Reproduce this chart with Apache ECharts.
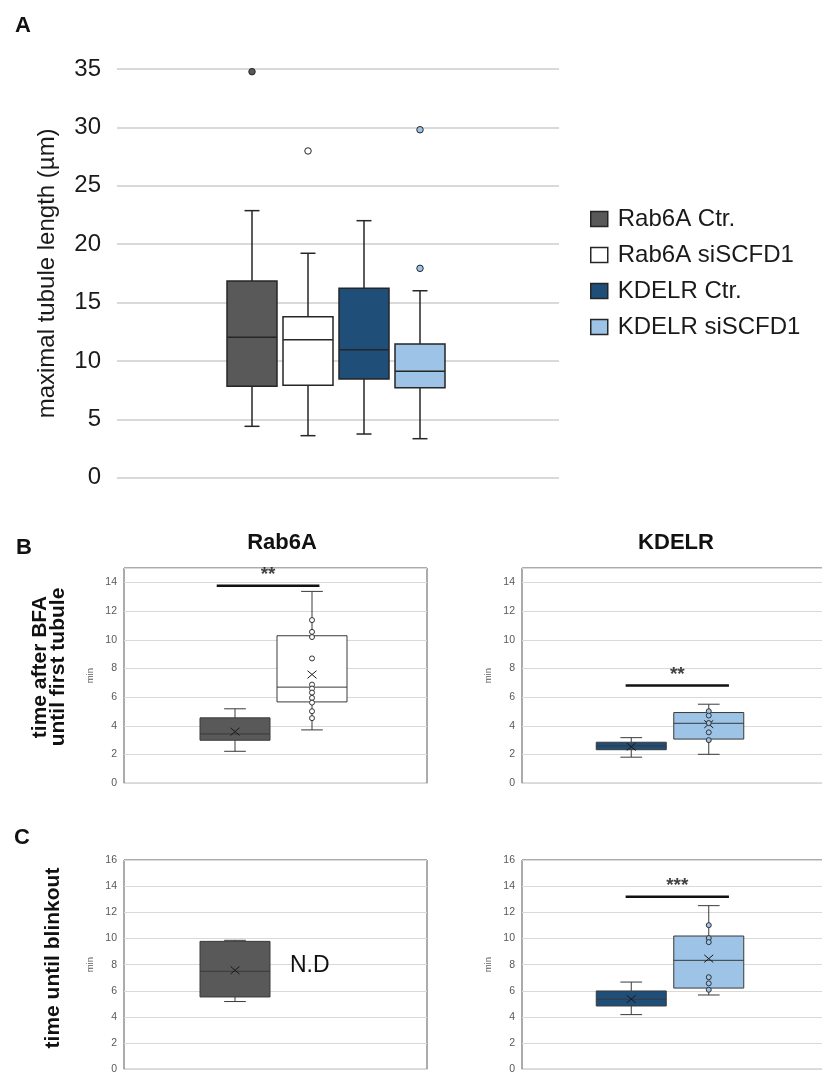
<!DOCTYPE html>
<html><head><meta charset="utf-8">
<script src="https://cdn.jsdelivr.net/npm/echarts@6/dist/echarts.min.js"></script>
<style>html,body{margin:0;padding:0;background:#fff}#c{width:822px;height:1072px}</style>
</head><body><div id="c"></div>
<script>
// ---------------- DATA ----------------
// Panel A: maximal tubule length (µm); stats = [min, Q1, median, Q3, max]
const aCategories = ['Rab6A Ctr.', 'Rab6A siSCFD1', 'KDELR Ctr.', 'KDELR siSCFD1'];
const aBoxStats = [
  [4.40, 7.83, 12.02, 16.85, 22.87],
  [3.60, 7.91, 11.82, 13.79, 19.22],
  [3.74, 8.45, 10.96, 16.22, 22.01],
  [3.34, 7.71, 9.11, 11.45, 16.01]
];
const aOutliers = [[34.77], [27.98], [], [29.80, 17.93]];
const aYTicks = [0, 5, 10, 15, 20, 25, 30, 35];

// Panel B: time after BFA until first tubule (min)
const bCategories = ['Ctr.', 'siSCFD1'];
const bRab6ABox = [[2.23, 3.00, 3.44, 4.56, 5.19], [3.72, 5.67, 6.70, 10.28, 13.37]];
const bRab6AMean = [3.60, 7.58];
const bRab6APoints = [[], [11.37, 10.55, 10.19, 8.70, 6.88, 6.60, 6.32, 5.95, 5.62, 5.02, 4.54]];
const bKdelrBox = [[1.82, 2.34, 2.60, 2.86, 3.18], [2.02, 3.08, 4.18, 4.93, 5.51]];
const bKdelrMean = [2.55, 4.12];
const bKdelrPoints = [[], [5.02, 4.72, 4.20, 3.55, 3.01]];
const bYTicks = [0, 2, 4, 6, 8, 10, 12, 14];
const bYMax = 15;

// Panel C: time until blinkout (min)
const cCategories = ['Ctr.', 'siSCFD1'];
const cRab6ABox = [[5.18, 5.53, 7.49, 9.78, 9.86]];
const cRab6AMean = [7.57];
const cKdelrBox = [[4.18, 4.84, 5.35, 5.99, 6.67], [5.68, 6.21, 8.33, 10.19, 12.51]];
const cKdelrMean = [5.37, 8.46];
const cKdelrPoints = [[], [11.02, 10.03, 9.72, 7.04, 6.57, 6.08]];
const cYTicks = [0, 2, 4, 6, 8, 10, 12, 14, 16];

// significance annotations (value = y level in axis units)
const sigBRab6A = { y: 13.77, text: '**' };
const sigBKdelr = { y: 6.81, text: '**' };
const sigCKdelr = { y: 13.2, text: '***' };

// ---------------- STYLE / LAYOUT ----------------
const FONT = '"Liberation Sans", Arial, Helvetica, sans-serif';
const FILLS = ['#595959', '#ffffff', '#1f4e79', '#9dc3e6'];
const INK = '#262626';

const grid = [], xAxis = [], yAxis = [], series = [];

function addGrid(rect, xa, ya, extra) {
  const gi = grid.length;
  grid.push(Object.assign({ left: rect.left, top: rect.top, width: rect.width, height: rect.height,
    containLabel: false, outerBoundsMode: 'none' }, extra || {}));
  xAxis.push(Object.assign({ gridIndex: gi }, xa));
  yAxis.push(Object.assign({ gridIndex: gi }, ya));
  return gi;
}

function hiddenY(ticks, max) {
  return { type: 'value', min: ticks[0], max: max, interval: ticks[1] - ticks[0], show: false };
}

function frameY(ticks, max, opt) {
  return Object.assign({
    type: 'value', min: ticks[0], max: max, interval: ticks[1] - ticks[0],
    axisLine: { show: false }, axisTick: { show: false },
    splitLine: { show: true, lineStyle: { color: '#d9d9d9', width: 1 } },
    axisLabel: { fontSize: 10.5, color: '#595959', margin: 7, fontFamily: FONT, showMaxLabel: ticks[ticks.length - 1] === max },
    name: 'min', nameLocation: 'middle', nameRotate: 90, nameGap: 29,
    nameTextStyle: { fontSize: 9.5, color: '#595959', fontFamily: FONT }
  }, opt || {});
}

function addBox(gi, catIndex, stats, mean, st) {
  series.push({
    type: 'custom', name: st.name, xAxisIndex: gi, yAxisIndex: gi, silent: true, z: 3,
    data: [[catIndex].concat(stats)],
    encode: { x: 0, y: [1, 2, 3, 4, 5] },
    renderItem: function (params, api) {
      const x = api.value(0);
      const lo = api.coord([x, api.value(1)]);
      const q1 = api.coord([x, api.value(2)]);
      const md = api.coord([x, api.value(3)]);
      const q3 = api.coord([x, api.value(4)]);
      const hi = api.coord([x, api.value(5)]);
      const band = api.size([1, 0])[0];
      const w = band * st.widthRatio;
      const cap = w * st.capRatio;
      const cx = lo[0];
      const ls = { stroke: st.stroke, lineWidth: st.lineWidth, fill: null };
      const children = [
        { type: 'line', shape: { x1: cx, y1: lo[1], x2: cx, y2: q1[1] }, style: ls },
        { type: 'line', shape: { x1: cx, y1: q3[1], x2: cx, y2: hi[1] }, style: ls },
        { type: 'line', shape: { x1: cx - cap / 2, y1: lo[1], x2: cx + cap / 2, y2: lo[1] }, style: ls },
        { type: 'line', shape: { x1: cx - cap / 2, y1: hi[1], x2: cx + cap / 2, y2: hi[1] }, style: ls },
        { type: 'rect', shape: { x: cx - w / 2, y: q3[1], width: w, height: q1[1] - q3[1] },
          style: { fill: st.fill, stroke: st.stroke, lineWidth: st.lineWidth } },
        { type: 'line', shape: { x1: cx - w / 2, y1: md[1], x2: cx + w / 2, y2: md[1] }, style: ls }
      ];
      if (mean != null) {
        const m = api.coord([x, mean]);
        const hx = 4.5, hy = 3.8;
        const xs = { stroke: '#1a1a1a', lineWidth: 1 };
        children.push({ type: 'line', shape: { x1: m[0] - hx, y1: m[1] - hy, x2: m[0] + hx, y2: m[1] + hy }, style: xs });
        children.push({ type: 'line', shape: { x1: m[0] - hx, y1: m[1] + hy, x2: m[0] + hx, y2: m[1] - hy }, style: xs });
      }
      return { type: 'group', children: children };
    }
  });
}

function addPoints(gi, catIndex, values, fill, size, border) {
  if (!values || !values.length) return;
  series.push({
    type: 'scatter', xAxisIndex: gi, yAxisIndex: gi, silent: true, z: 4,
    data: values.map(v => [catIndex, v]), symbol: 'circle', symbolSize: size,
    itemStyle: { color: fill, borderColor: border, borderWidth: 1, opacity: 1 }
  });
}

function addSig(gi, sig, from, to) {
  series.push({
    type: 'line', xAxisIndex: gi, yAxisIndex: gi, silent: true, z: 5,
    data: [[from, sig.y], [to, sig.y]], symbol: 'none',
    lineStyle: { color: '#111', width: 2.5 }
  });
  series.push({
    type: 'scatter', xAxisIndex: gi, yAxisIndex: gi, silent: true, z: 5,
    data: [[(from + to) / 2, sig.y]], symbolSize: 1, itemStyle: { color: 'rgba(0,0,0,0)' },
    label: { show: true, position: 'top', distance: 1, formatter: sig.text, fontSize: 19,
      fontWeight: 'bold', color: '#111', fontFamily: FONT }
  });
}

// ---------------- PANEL A ----------------
const aTop = 69, aH = 408.7;
const aMax = aYTicks[aYTicks.length - 1];
addGrid({ left: 117, top: aTop, width: 442, height: aH },
  { type: 'value', min: 0, max: 1, show: false },
  { type: 'value', min: aYTicks[0], max: aMax, interval: aYTicks[1] - aYTicks[0],
    axisLine: { show: false }, axisTick: { show: false },
    splitLine: { show: true, lineStyle: { color: '#d9d9d9', width: 2 } },
    axisLabel: { fontSize: 24, color: '#1a1a1a', margin: 16, fontFamily: FONT },
    name: 'maximal tubule length (µm)', nameLocation: 'middle', nameRotate: 90, nameGap: 58,
    nameTextStyle: { fontSize: 24, color: '#1a1a1a', fontFamily: FONT } });
const gAb = addGrid({ left: 224, top: aTop, width: 224, height: aH },
  { type: 'category', data: aCategories, show: false },
  hiddenY(aYTicks, aMax));
aCategories.forEach((name, i) => {
  addBox(gAb, i, aBoxStats[i], null, { name: name, fill: FILLS[i], stroke: INK, lineWidth: 1.5, widthRatio: 50 / 56, capRatio: 0.3 });
  addPoints(gAb, i, aOutliers[i], FILLS[i], 6.5, INK);
});

// ---------------- PANEL B ----------------
const bTop = 568, bH = 215.3;
const BSTROKE = '#3a3a3a';
const frameBorder = { show: true, borderColor: '#595959', borderWidth: 1, backgroundColor: 'rgba(0,0,0,0)' };
const gBL = addGrid({ left: 124, top: bTop, width: 303, height: bH },
  { type: 'value', min: 0, max: 1, show: false }, frameY(bYTicks, bYMax), frameBorder);
const gBLb = addGrid({ left: 196.5, top: bTop, width: 154, height: bH },
  { type: 'category', data: bCategories, show: false }, hiddenY(bYTicks, bYMax));
[0, 1].forEach(i => {
  addBox(gBLb, i, bRab6ABox[i], bRab6AMean[i], { name: 'Rab6A ' + bCategories[i], fill: FILLS[i], stroke: BSTROKE, lineWidth: 1, widthRatio: 70 / 77, capRatio: 0.31 });
  addPoints(gBLb, i, bRab6APoints[i], FILLS[i], 5, '#333');
});
addSig(gBL, sigBRab6A, 0.306, 0.645);

const gBR = addGrid({ left: 522, top: bTop, width: 303, height: bH },
  { type: 'value', min: 0, max: 1, show: false }, frameY(bYTicks, bYMax), frameBorder);
const gBRb = addGrid({ left: 592.5, top: bTop, width: 155, height: bH },
  { type: 'category', data: bCategories, show: false }, hiddenY(bYTicks, bYMax));
[0, 1].forEach(i => {
  addBox(gBRb, i, bKdelrBox[i], bKdelrMean[i], { name: 'KDELR ' + bCategories[i], fill: FILLS[i + 2], stroke: BSTROKE, lineWidth: 1, widthRatio: 70 / 77.5, capRatio: 0.31 });
  addPoints(gBRb, i, bKdelrPoints[i], FILLS[i + 2], 5, '#333');
});
addSig(gBR, sigBKdelr, 0.342, 0.683);

// ---------------- PANEL C ----------------
const cTop = 860, cH = 209.3;
const cMax = cYTicks[cYTicks.length - 1];
const gCL = addGrid({ left: 124, top: cTop, width: 303, height: cH },
  { type: 'value', min: 0, max: 1, show: false }, frameY(cYTicks, cMax), frameBorder);
const gCLb = addGrid({ left: 196.5, top: cTop, width: 154, height: cH },
  { type: 'category', data: cCategories, show: false }, hiddenY(cYTicks, cMax));
cRab6ABox.forEach((st, i) => {
  addBox(gCLb, i, st, cRab6AMean[i], { name: 'Rab6A blink ' + cCategories[i], fill: FILLS[i], stroke: BSTROKE, lineWidth: 1, widthRatio: 70 / 77, capRatio: 0.31 });
});

const gCR = addGrid({ left: 522, top: cTop, width: 303, height: cH },
  { type: 'value', min: 0, max: 1, show: false }, frameY(cYTicks, cMax), frameBorder);
const gCRb = addGrid({ left: 592.5, top: cTop, width: 155, height: cH },
  { type: 'category', data: cCategories, show: false }, hiddenY(cYTicks, cMax));
[0, 1].forEach(i => {
  addBox(gCRb, i, cKdelrBox[i], cKdelrMean[i], { name: 'KDELR blink ' + cCategories[i], fill: FILLS[i + 2], stroke: BSTROKE, lineWidth: 1, widthRatio: 70 / 77.5, capRatio: 0.31 });
  addPoints(gCRb, i, cKdelrPoints[i], FILLS[i + 2], 5, '#333');
});
addSig(gCR, sigCKdelr, 0.342, 0.683);

// ---------------- TEXTS ----------------
function txt(x, y, text, size, weight, opts) {
  return Object.assign({
    type: 'text', x: x, y: y, silent: true, z: 10,
    style: Object.assign({ text: text, fontSize: size, fontWeight: weight, fontFamily: FONT, fill: '#111',
      align: 'left', verticalAlign: 'middle' }, (opts && opts.style) || {})
  }, (opts && opts.el) || {});
}
const graphic = [
  txt(15, 26, 'A', 22, 'bold'),
  txt(16, 548, 'B', 22, 'bold'),
  txt(14, 838, 'C', 22, 'bold'),
  txt(282, 543, 'Rab6A', 22, 'bold', { style: { align: 'center' } }),
  txt(676, 543, 'KDELR', 22, 'bold', { style: { align: 'center' } }),
  txt(49, 667, 'time after BFA\nuntil first tubule', 21, 'bold', { style: { align: 'center', lineHeight: 18 }, el: { rotation: Math.PI / 2 } }),
  txt(53, 958, 'time until blinkout', 21, 'bold', { style: { align: 'center' }, el: { rotation: Math.PI / 2 } }),
  txt(290, 966, 'N.D', 23, 'normal')
];

const option = {
  animation: false,
  backgroundColor: '#ffffff',
  textStyle: { fontFamily: FONT },
  grid: grid, xAxis: xAxis, yAxis: yAxis, series: series,
  legend: {
    show: true, orient: 'vertical', left: 590, top: 207, padding: 0,
    itemWidth: 17, itemHeight: 15, itemGap: 12,
    selectedMode: false,
    textStyle: { fontSize: 24, color: '#1a1a1a', fontFamily: FONT, padding: [0, 0, 0, 5] },
    data: aCategories.map((n, i) => ({ name: n, icon: 'rect', itemStyle: { color: FILLS[i], borderColor: INK, borderWidth: 1.5 } }))
  },
  graphic: graphic
};
const chart = echarts.init(document.getElementById('c'));
chart.setOption(option);
</script>
</body></html>
